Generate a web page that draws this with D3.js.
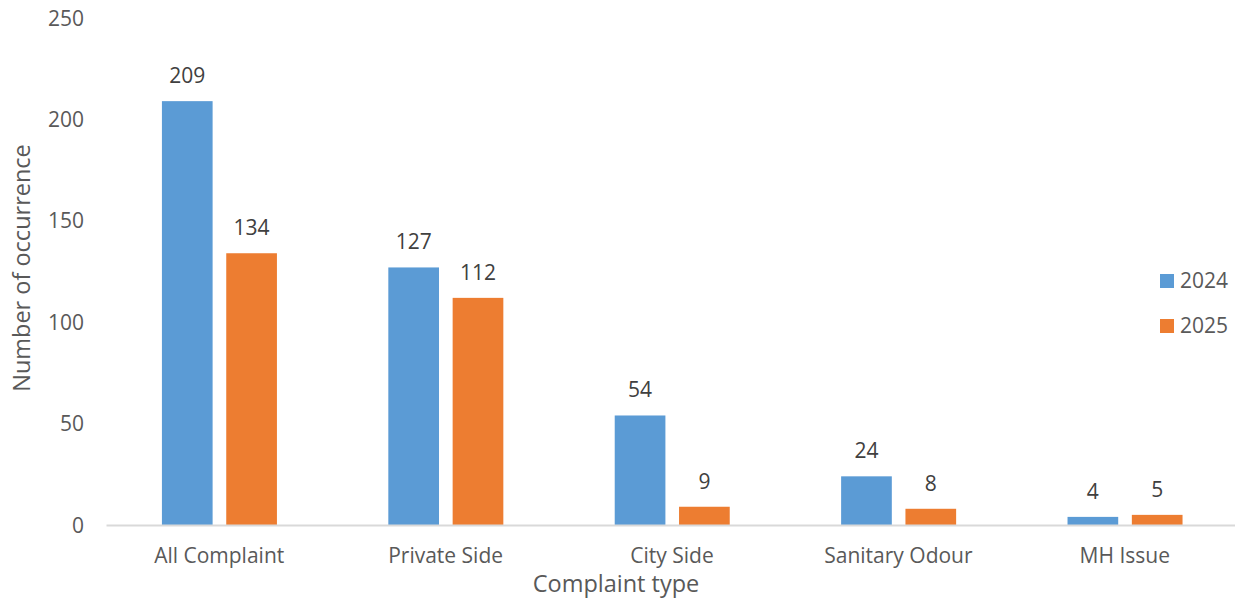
<!DOCTYPE html>
<html>
<head>
<meta charset="utf-8">
<script src="https://cdn.jsdelivr.net/npm/d3@7"></script>
<style>
  html, body { margin: 0; padding: 0; background: #fff; }
  svg { display: block; font-family: "Open Sans", sans-serif; }
</style>
</head>
<body>
<svg id="chart" width="1235" height="601"></svg>
<script>
// Complaint counts by type, 2024 vs 2025
const categories = ["All Complaint", "Private Side", "City Side", "Sanitary Odour", "MH Issue"];
const seriesNames = ["2024", "2025"];
const values2024 = [209, 127, 54, 24, 4];
const values2025 = [134, 112, 9, 8, 5];
const yTicks = [0, 50, 100, 150, 200, 250];
const colors = ["#5B9BD5", "#ED7D31"];

const svg = d3.select("#chart");
const plot = { left: 106, right: 1238, top: 18, bottom: 525 };

const rows = categories.map((c, i) => ({ category: c, values: [values2024[i], values2025[i]] }));

const x0 = d3.scaleBand().domain(categories).range([plot.left, plot.right]).padding(0);
const bw = x0.bandwidth();
const x1 = d3.scaleBand().domain(seriesNames).range([bw * 0.247, bw * 0.755]).paddingInner(0.212);
const y = d3.scaleLinear().domain([0, 250]).range([plot.bottom, plot.top]);

// y tick labels (no axis line, no gridlines)
const yAxis = d3.axisLeft(y).tickValues(yTicks).tickSize(0).tickPadding(0);
const yg = svg.append("g").attr("transform", `translate(84,0)`).call(yAxis);
yg.select(".domain").remove();
yg.selectAll("text").attr("font-size", 21).attr("fill", "#595959")
  .attr("font-family", "Open Sans, sans-serif").attr("dy", "0.34em");

// bars
const groups = svg.append("g").selectAll("g").data(rows).join("g")
  .attr("transform", d => `translate(${x0(d.category)},0)`);

groups.selectAll("rect").data(d => d.values.map((v, i) => ({ key: seriesNames[i], v, i })))
  .join("rect")
  .attr("x", d => x1(d.key))
  .attr("y", d => y(d.v))
  .attr("width", x1.bandwidth())
  .attr("height", d => y(0) - y(d.v))
  .attr("fill", d => colors[d.i]);

// value labels
groups.selectAll("text").data(d => d.values.map((v, i) => ({ key: seriesNames[i], v, i })))
  .join("text")
  .attr("x", d => x1(d.key) + x1.bandwidth() / 2)
  .attr("y", d => y(d.v) - 18)
  .attr("text-anchor", "middle")
  .attr("font-size", 21)
  .attr("fill", "#404040")
  .text(d => d.v);

// x axis baseline and category labels
const xAxis = d3.axisBottom(x0).tickSize(0).tickPadding(0);
const xg = svg.append("g").attr("transform", `translate(0,${y(0)})`).call(xAxis);
xg.select(".domain").attr("stroke", "#D9D9D9").attr("stroke-width", 2);
xg.selectAll("text").attr("font-size", 21).attr("fill", "#595959")
  .attr("font-family", "Open Sans, sans-serif").attr("y", 38).attr("dy", null);

// axis titles
svg.append("text").attr("x", 616).attr("y", 592).attr("text-anchor", "middle")
  .attr("font-size", 23.5).attr("fill", "#595959").text("Complaint type");
svg.append("text").attr("transform", "translate(30,268) rotate(-90)").attr("text-anchor", "middle")
  .attr("font-size", 23.5).attr("fill", "#595959").text("Number of occurrence");

// legend
const legend = svg.append("g").selectAll("g").data(seriesNames).join("g")
  .attr("transform", (d, i) => `translate(1160,${274 + i * 45})`);
legend.append("rect").attr("width", 14).attr("height", 14).attr("fill", (d, i) => colors[i]);
legend.append("text").attr("x", 20).attr("y", 7).attr("dy", "0.35em")
  .attr("font-size", 21).attr("fill", "#595959").text(d => d);
</script>
</body>
</html>
